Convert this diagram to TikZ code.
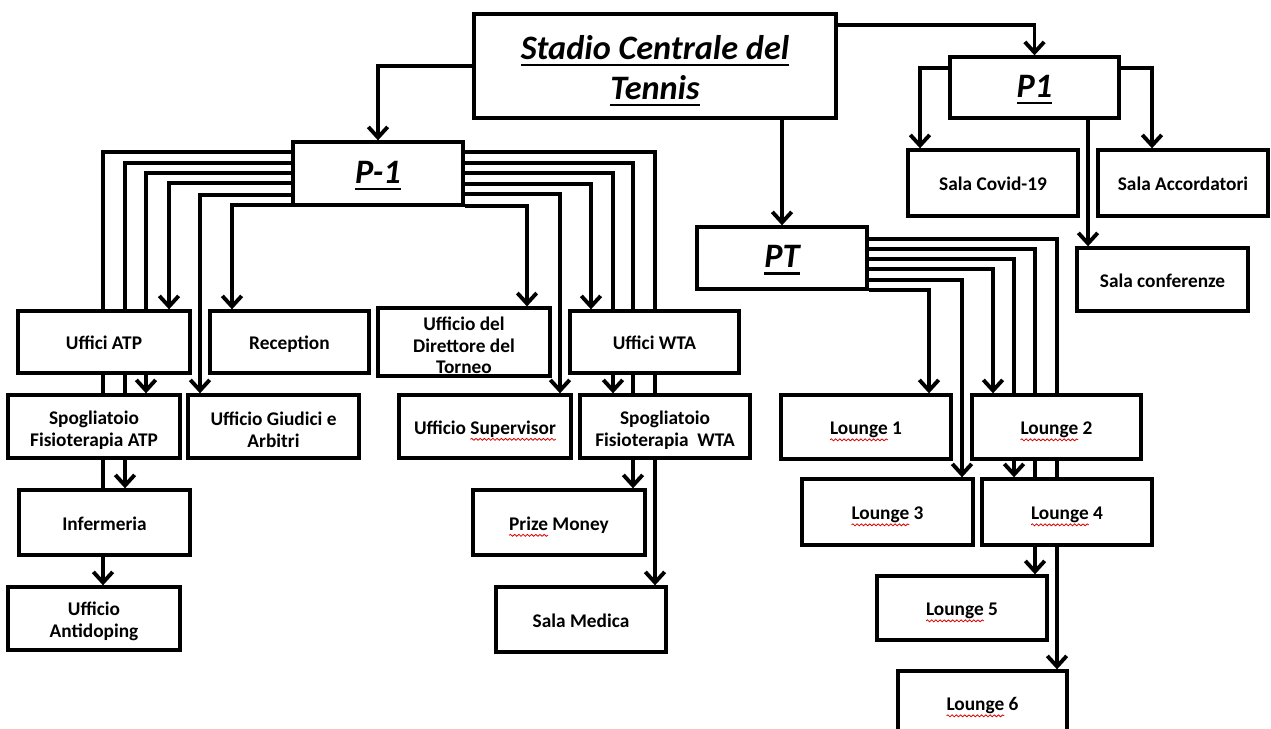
\documentclass[tikz,border=0pt]{standalone}
\usepackage{fontspec}
\setmainfont{Carlito}
\usetikzlibrary{arrows.meta,backgrounds,decorations.pathmorphing}
\newlength\spellw
\newcommand\spellwave[1]{\leavevmode\settowidth\spellw{#1}\rlap{\tikz[baseline=0pt]{\useasboundingbox (0pt,0pt);
    \draw[red!85!black, line width=0.45pt, decorate, decoration={snake, amplitude=0.55pt, segment length=2.4pt}] (0pt,-2.8pt) -- (\spellw,-2.8pt);}}#1}
\newcommand\ulbox[1]{\leavevmode\setbox0\hbox{#1}\rlap{\rule[-4pt]{\wd0}{1.3pt}}\box0}
\newcommand\lift[1][11.5pt]{\rule{0pt}{#1}}

\begin{document}
\begin{tikzpicture}[x=0.02cm, y=-0.02cm,
    wh/.style 2 args={minimum width=#1*0.02cm, minimum height=#2*0.02cm},
    box/.style={draw, fill=white, line width=1.9pt, align=center, inner sep=1pt,
        font=\fontsize{11}{12.5}\selectfont\bfseries},
    one/.style={text height=9pt, text depth=0pt},
    head/.style={box, font=\fontsize{19.5}{22.7}\selectfont\bfseries\itshape},
    onehead/.style={head, text height=13pt, text depth=2pt},
    link/.style={line width=2.2pt, -{Straight Barb[length=6pt,width=11pt]}}]
			%%%%% START %%%%%
			\useasboundingbox (0,0) rectangle (1271,729);
			\clip (0,0) rectangle (1271,729);
			
			\node[head, wh={362}{104}] (stadio) at (655,66) {\lift[19pt]\ulbox{Stadio Centrale del}\\\ulbox{Tennis}};
			\node[onehead, wh={169}{61}] (p1) at (1034.5,87.5) {\ulbox{P1}};
			\node[onehead, wh={170}{63}] (pm) at (378,173.5) {\ulbox{P-1}};
			\node[onehead, wh={170}{62}] (pt) at (782,258) {\ulbox{PT}};
			
			% piano 1
			\node[box, one, wh={170}{66}] (covid) at (993,183) {Sala Covid-19};
			\node[box, one, wh={170}{66}] (accord) at (1183,183) {Sala Accordatori};
			\node[box, one, wh={171}{63}] (conf) at (1162.5,279.5) {Sala conferenze};
			
			% piano -1
			\node[box, one, wh={172}{62}] (uatp) at (104,342) {Uffici ATP};
			\node[box, one, wh={159}{62}] (recep) at (289.5,342) {Reception};
			\node[box, wh={172}{62}] (dirett) at (464,342) {\lift Ufficio del\\Direttore del\\Torneo};
			\node[box, one, wh={169}{62}] (uwta) at (654.5,342) {Uffici WTA};
			\node[box, wh={172}{63}] (spatp) at (94,426.5) {\lift Spogliatoio\\Fisioterapia ATP};
			\node[box, wh={171}{63}] (giudici) at (273.5,426.5) {\lift Ufficio Giudici e\\Arbitri};
			\node[box, one, wh={172}{63}] (superv) at (485,426.5) {Ufficio \spellwave{Supervisor}};
			\node[box, wh={170}{63}] (spwta) at (665,426.5) {\lift Spogliatoio\\Fisioterapia\ \ WTA};
			\node[box, one, wh={171}{65}] (inferm) at (104.5,522.5) {Infermeria};
			\node[box, one, wh={172}{65}] (prize) at (559,522.5) {\spellwave{Prize} Money};
			\node[box, wh={172}{63}] (antidop) at (94,618.5) {\lift Ufficio\\Antidoping};
			\node[box, one, wh={170}{65}] (medica) at (581,619.5) {Sala Medica};
			
			% piano terra
			\node[box, one, wh={170}{64}] (l1) at (866,427) {\spellwave{Lounge} 1};
			\node[box, one, wh={169}{64}] (l2) at (1056.5,427) {\spellwave{Lounge} 2};
			\node[box, one, wh={171}{66}] (l3) at (887.5,512) {\spellwave{Lounge} 3};
			\node[box, one, wh={170}{66}] (l4) at (1067,512) {\spellwave{Lounge} 4};
			\node[box, one, wh={170}{64}] (l5) at (962,608) {\spellwave{Lounge} 5};
			\node[box, one, wh={169}{64}] (l6) at (982.5,703) {\spellwave{Lounge} 6};
			
			\begin{pgfonlayer}{background}
			\draw[link] (stadio.west) -| (pm.north);
			\draw[link] (stadio.east |- 0,25) -| (p1.north);
			\draw[link] (stadio.south -| pt.north) -- (pt.north);
			
			\draw[link] (p1.west |- 0,68) -| (920,0 |- covid.north);
			\draw[link] (p1.east |- 0,68) -| (1152,0 |- accord.north);
			\draw[link] (1088,0 |- p1.south) -- (1088,0 |- conf.north);
			
			\foreach \yy/\xx/\dest in {152/103/antidop, 163/125/inferm, 173/146/spatp, 183/169/uatp, 195/200/giudici, 205/232/recep}
				\draw[link] (pm.west |- 0,\yy) -| (\xx,0 |- \dest.north);
			\foreach \yy/\xx/\dest in {152/655/medica, 163/633/prize, 173/613/spwta, 184/591/uwta, 194/560/superv, 206/527/dirett}
				\draw[link] (pm.east |- 0,\yy) -| (\xx,0 |- \dest.north);
			\foreach \yy/\xx/\dest in {239/1057/l6, 249/1035/l5, 259/1014/l4, 269/993/l2, 280/962/l3, 290/929/l1}
				\draw[link] (pt.east |- 0,\yy) -| (\xx,0 |- \dest.north);
			\end{pgfonlayer}
			
			%%%%% END %%%%%
\end{tikzpicture}
\end{document}
